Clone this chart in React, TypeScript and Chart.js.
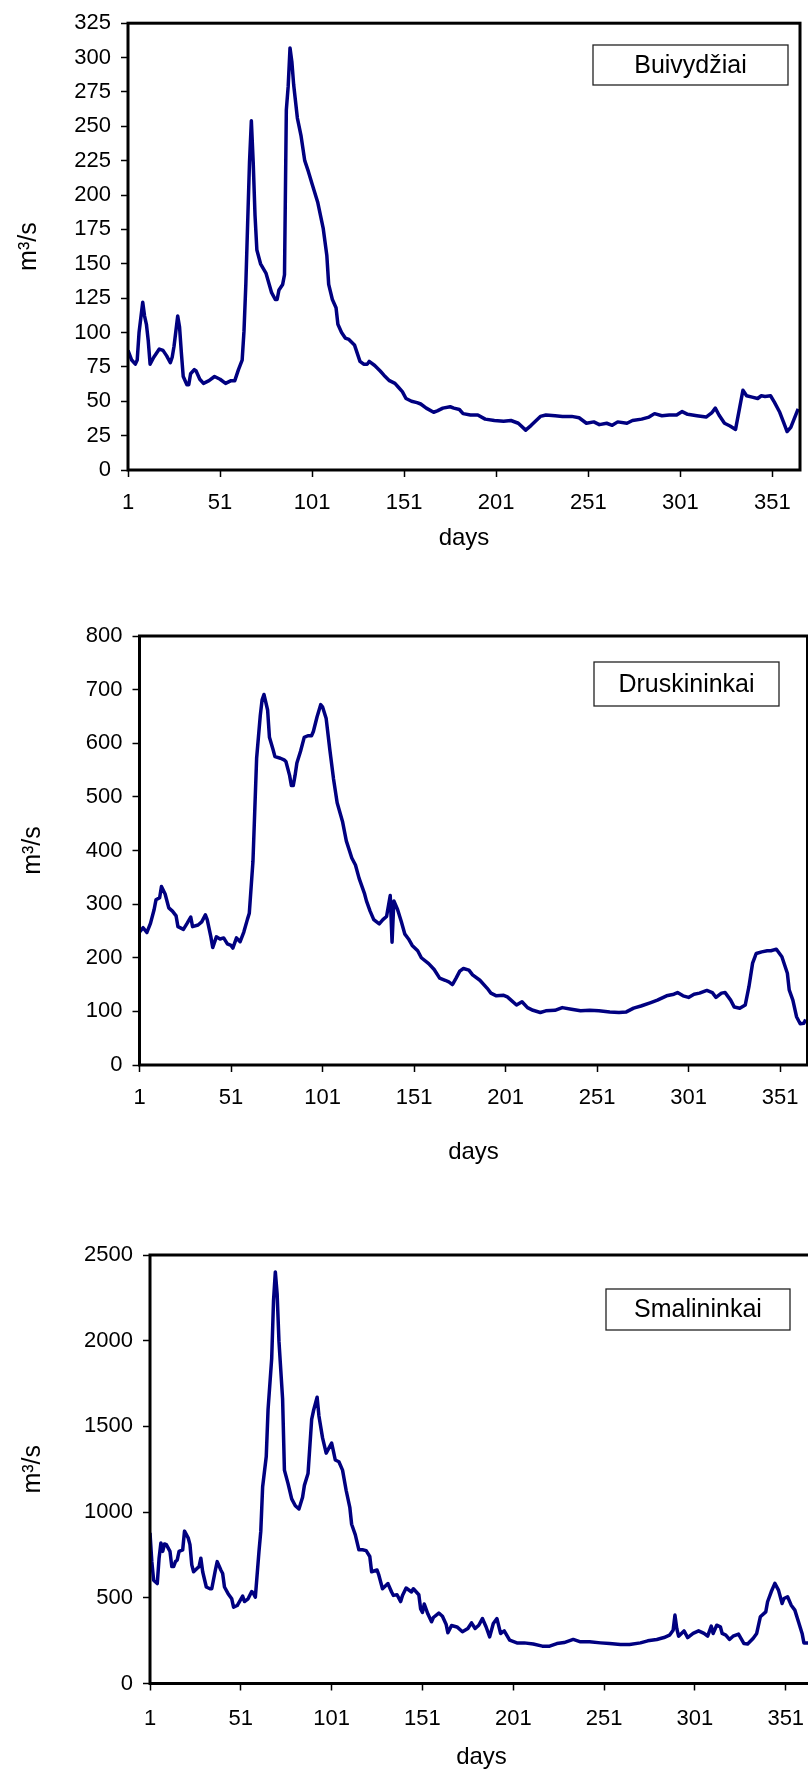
import React, { useEffect, useRef } from 'react';
import { Chart, registerables } from 'chart.js';

Chart.register(...registerables);

const FONT = '"Liberation Sans", Arial, sans-serif';

// x-axis tick labels (days)
const dayTicks = [1, 51, 101, 151, 201, 251, 301, 351];

// ---- Buivydžiai ----
const buivydziaiName = 'Buivydžiai';
const buivydziaiTicks = [0, 25, 50, 75, 100, 125, 150, 175, 200, 225, 250, 275, 300, 325];
const buivydziaiDays = [
  1, 3, 5, 6, 7, 9, 10, 11, 12, 13, 15, 18, 20, 22, 24, 25, 26, 28, 29, 30, 31, 33, 34, 35, 37, 38, 40, 42, 45, 48,
  51, 54, 57, 59, 61, 63, 64, 65, 66, 67, 68, 69, 70, 71, 73, 76, 79, 81, 82, 83, 85, 86, 87, 88, 89, 90, 91, 93, 95, 97,
  99, 101, 104, 107, 109, 110, 112, 114, 115, 117, 119, 121, 124, 127, 129, 131, 132, 135, 138, 140, 143, 146, 148, 150, 152, 155, 158, 160, 163, 167,
  169, 172, 176, 178, 181, 183, 187, 191, 195, 200, 205, 209, 213, 217, 220, 225, 228, 233, 237, 242, 246, 250, 254, 257, 261, 264, 267, 272, 275, 280,
  284, 287, 291, 295, 299, 302, 305, 310, 315, 318, 320, 322, 325, 328, 331, 335, 337, 340, 343, 345, 347, 350, 352, 355, 357, 359, 361, 365,
];
const buivydziaiFlow = [
  87, 80, 77, 80, 100, 122, 112, 106, 94, 77, 82, 88, 87, 83, 78, 82, 90, 112, 104, 85, 68, 62, 62, 70, 73, 72, 66, 63, 65, 68,
  66, 63, 65, 65, 73, 80, 101, 135, 180, 224, 254, 224, 185, 160, 150, 143, 129, 124, 124, 131, 135, 142, 262, 279, 307, 297, 280, 256, 243, 225,
  217, 208, 195, 176, 156, 135, 124, 118, 106, 100, 96, 95, 91, 79, 77, 77, 79, 76, 72, 69, 65, 63, 60, 57, 52, 50, 49, 48, 45, 42,
  43, 45, 46, 45, 44, 41, 40, 40, 37, 36, 35.5, 36, 34, 29, 32.5, 39, 40, 39.5, 39, 39, 38, 34, 35, 33, 34, 32.5, 35, 34, 36, 37,
  38.5, 41, 39.5, 40, 40, 42.5, 40.5, 39.5, 38.5, 41.5, 45, 40, 34, 32, 29.5, 58, 54, 53, 52, 54, 53.5, 54, 49.5, 42, 35, 28, 31, 44.5,
];

// ---- Druskininkai ----
const druskininkaiName = 'Druskininkai';
const druskininkaiTicks = [0, 100, 200, 300, 400, 500, 600, 700, 800];
const druskininkaiDays = [
  1, 3, 5, 7, 9, 10, 12, 13, 15, 17, 19, 21, 22, 25, 27, 29, 30, 33, 35, 37, 38, 40, 41, 43, 45, 47, 49, 51, 52, 54,
  56, 58, 60, 61, 63, 64, 65, 67, 68, 69, 71, 72, 74, 75, 78, 80, 81, 83, 84, 85, 86, 87, 89, 91, 93, 95, 96, 98, 100, 101,
  103, 105, 107, 109, 112, 114, 117, 119, 121, 124, 125, 127, 129, 132, 134, 136, 138, 139, 140, 142, 144, 146, 148, 150, 153, 155, 159, 162, 165, 168,
  170, 172, 174, 176, 178, 181, 183, 187, 191, 193, 196, 200, 202, 204, 207, 210, 213, 216, 220, 223, 228, 232, 237, 242, 247, 252, 258, 263, 267, 271,
  275, 280, 284, 289, 293, 295, 298, 301, 304, 307, 311, 314, 316, 319, 321, 324, 326, 329, 332, 334, 336, 338, 341, 344, 346, 349, 352, 355, 356, 358,
  360, 362, 364, 365,
];
const druskininkaiFlow = [
  248, 256, 247, 264, 290, 308, 312, 333, 319, 293, 287, 278, 258, 253, 264, 276, 258, 261, 267, 280, 271, 239, 219, 239, 235, 237, 226, 223, 218, 237,
  230, 248, 272, 283, 380, 476, 572, 652, 681, 691, 662, 611, 588, 575, 572, 569, 566, 540, 521, 521, 540, 563, 585, 611, 614, 614, 622, 649, 672, 668,
  646, 588, 534, 489, 453, 418, 386, 373, 348, 319, 306, 287, 271, 263, 271, 277, 316, 229, 306, 290, 268, 244, 235, 223, 213, 200, 189, 178, 162, 158,
  155, 150, 162, 175, 180, 177, 168, 158, 143, 134, 129, 130, 127, 121, 112, 118, 107, 102, 98, 101, 102, 107, 104, 101, 102, 101, 99, 98, 99, 106,
  110, 116, 121, 129, 132, 135, 129, 126, 132, 134, 139, 135, 126, 134, 135, 121, 108, 106, 112, 146, 190, 208, 211, 213, 213, 216, 202, 171, 140, 121,
  90, 77, 78, 85,
];

// ---- Smalininkai ----
const smalininkaiName = 'Smalininkai';
const smalininkaiTicks = [0, 500, 1000, 1500, 2000, 2500];
const smalininkaiDays = [
  1, 2, 3, 5, 6, 7, 8, 9, 10, 12, 13, 14, 15, 16, 17, 19, 20, 22, 23, 24, 25, 27, 28, 29, 30, 32, 34, 35, 37, 38,
  40, 41, 42, 44, 46, 47, 49, 52, 53, 55, 57, 58, 59, 61, 62, 63, 65, 66, 68, 69, 70, 71, 72, 74, 75, 77, 79, 81, 83, 85,
  86, 88, 90, 91, 93, 94, 96, 98, 100, 101, 102, 103, 105, 107, 109, 111, 112, 114, 116, 118, 120, 122, 123, 126, 127, 129, 130, 132, 134, 135,
  137, 139, 140, 142, 145, 146, 149, 150, 151, 152, 154, 156, 157, 160, 162, 164, 165, 167, 170, 173, 176, 178, 180, 182, 184, 186, 188, 190, 192, 194,
  196, 199, 203, 207, 212, 217, 221, 225, 229, 234, 238, 243, 249, 254, 260, 265, 271, 275, 280, 284, 287, 289, 290, 291, 292, 295, 297, 300, 303, 306,
  308, 310, 311, 313, 315, 316, 318, 320, 322, 325, 328, 330, 333, 335, 337, 340, 341, 343, 345, 347, 349, 350, 352, 354, 356, 358, 360, 361, 363, 366,
];
const smalininkaiFlow = [
  879, 711, 603, 583, 731, 820, 771, 814, 810, 771, 682, 682, 711, 721, 771, 780, 889, 850, 810, 692, 652, 672, 682, 731, 652, 563, 553, 553, 662, 711,
  662, 642, 563, 524, 494, 445, 455, 510, 478, 494, 537, 524, 504, 771, 889, 1146, 1324, 1600, 1897, 2233, 2401, 2272, 1996, 1660, 1245, 1166, 1077, 1037, 1018, 1087,
  1156, 1225, 1541, 1591, 1670, 1561, 1433, 1344, 1383, 1403, 1354, 1304, 1294, 1245, 1126, 1028, 929, 869, 780, 780, 775, 741, 652, 662, 632, 553, 563, 583, 534, 514,
  518, 478, 514, 557, 534, 553, 518, 435, 415, 464, 405, 360, 385, 411, 392, 346, 296, 338, 330, 302, 321, 354, 321, 340, 379, 331, 272, 350, 379, 292,
  307, 253, 237, 237, 230, 218, 218, 233, 239, 257, 243, 243, 237, 233, 228, 228, 237, 249, 257, 268, 282, 311, 399, 321, 276, 307, 268, 292, 307, 292,
  276, 335, 292, 340, 331, 292, 282, 257, 276, 288, 233, 230, 263, 292, 389, 418, 477, 535, 584, 545, 467, 496, 506, 457, 428, 360, 292, 237, 237, 237,
];

type Cfg = {
  name: string;
  days: number[];
  flow: number[];
  yTicks: number[];
  yMax: number;
  top: number;
  width: number;
  height: number;
  padTop: number;
  padRight: number;
  yWidth: number;
  xHeight: number;
  xPad: number;
  xTitlePad: number;
  yTitlePad: number;
  box: { x: number; y: number; w: number; h: number };
};

const charts: Cfg[] = [
  {
    name: buivydziaiName, days: buivydziaiDays, flow: buivydziaiFlow, yTicks: buivydziaiTicks, yMax: 325,
    top: 0, width: 808, height: 560, padTop: 20, padRight: 8, yWidth: 128, xHeight: 90, xPad: 13, xTitlePad: 7, yTitlePad: 14,
    box: { x: 593, y: 45, w: 195, h: 40 },
  },
  {
    name: druskininkaiName, days: druskininkaiDays, flow: druskininkaiFlow, yTicks: druskininkaiTicks, yMax: 800,
    top: 600, width: 820, height: 570, padTop: 36, padRight: 12.5, yWidth: 139.5, xHeight: 105, xPad: 13, xTitlePad: 3, yTitlePad: 18,
    box: { x: 594, y: 62, w: 185, h: 44 },
  },
  {
    name: smalininkaiName, days: smalininkaiDays, flow: smalininkaiFlow, yTicks: smalininkaiTicks, yMax: 2500,
    top: 1230, width: 830, height: 543, padTop: 25, padRight: 17, yWidth: 150, xHeight: 89.5, xPad: 15, xTitlePad: 1, yTitlePad: 18,
    box: { x: 606, y: 59, w: 184, h: 41 },
  },
];

const framePlugin = {
  id: 'frameAndLabel',
  afterDatasetsDraw(chart: any, _args: any, opts: any) {
    const { ctx, chartArea: a } = chart;
    ctx.save();
    ctx.strokeStyle = '#000';
    ctx.lineWidth = 3;
    ctx.strokeRect(a.left, a.top, a.right - a.left, a.bottom - a.top);
    const b = opts.box;
    ctx.fillStyle = '#fff';
    ctx.fillRect(b.x, b.y, b.w, b.h);
    ctx.lineWidth = 1.3;
    ctx.strokeStyle = '#222';
    ctx.strokeRect(b.x, b.y, b.w, b.h);
    ctx.fillStyle = '#000';
    ctx.font = `25px ${FONT}`;
    ctx.textAlign = 'center';
    ctx.textBaseline = 'middle';
    ctx.fillText(opts.label, b.x + b.w / 2, b.y + b.h / 2 + 1);
    ctx.restore();
  },
};

function StationChart({ cfg }: { cfg: Cfg }) {
  const ref = useRef<HTMLCanvasElement>(null);
  useEffect(() => {
    const grid = {
      drawOnChartArea: false,
      drawTicks: true,
      tickLength: 7,
      tickColor: '#000',
      tickWidth: 1.5,
    };
    const chart = new Chart(ref.current as HTMLCanvasElement, {
      type: 'line',
      data: {
        datasets: [
          {
            data: cfg.days.map((d, i) => ({ x: d, y: cfg.flow[i] })),
            borderColor: '#000080',
            borderWidth: 3.5,
            pointRadius: 0,
            tension: 0,
            fill: false,
            borderJoinStyle: 'round',
          },
        ],
      },
      options: {
        animation: false,
        responsive: false,
        maintainAspectRatio: false,
        events: [],
        layout: {
          autoPadding: false,
          padding: { left: 0, top: cfg.padTop, right: cfg.padRight, bottom: 0 },
        },
        plugins: {
          legend: { display: false },
          tooltip: { enabled: false },
          frameAndLabel: { box: cfg.box, label: cfg.name },
        } as any,
        scales: {
          x: {
            type: 'linear',
            min: 1,
            max: 366,
            afterBuildTicks: (s: any) => {
              s.ticks = dayTicks.map((v) => ({ value: v }));
            },
            afterFit: (s: any) => {
              s.height = cfg.xHeight;
            },
            grid,
            border: { display: false },
            ticks: {
              color: '#000',
              font: { family: FONT, size: 22 },
              padding: cfg.xPad,
              maxRotation: 0,
              autoSkip: false,
              callback: (v: any) => String(v),
            },
            title: {
              display: true,
              text: 'days',
              color: '#000',
              font: { family: FONT, size: 24 },
              padding: { top: 0, bottom: cfg.xTitlePad },
            },
          },
          y: {
            type: 'linear',
            min: 0,
            max: cfg.yMax,
            afterBuildTicks: (s: any) => {
              s.ticks = cfg.yTicks.map((v) => ({ value: v }));
            },
            afterFit: (s: any) => {
              s.width = cfg.yWidth;
            },
            grid,
            border: { display: false },
            ticks: {
              color: '#000',
              font: { family: FONT, size: 22 },
              padding: 10,
              autoSkip: false,
              callback: (v: any) => String(v),
            },
            title: {
              display: true,
              text: 'm³/s',
              color: '#000',
              font: { family: FONT, size: 25 },
              padding: { top: cfg.yTitlePad, bottom: 0 },
            },
          },
        },
      } as any,
      plugins: [framePlugin as any],
    });
    return () => chart.destroy();
  }, [cfg]);
  return (
    <canvas
      ref={ref}
      width={cfg.width}
      height={cfg.height}
      style={{ position: 'absolute', left: 0, top: cfg.top, width: cfg.width, height: cfg.height }}
    />
  );
}

export default function App() {
  return (
    <div
      style={{
        position: 'absolute',
        left: 0,
        top: 0,
        width: 808,
        height: 1773,
        overflow: 'hidden',
        background: '#fff',
      }}
    >
      {charts.map((c) => (
        <StationChart key={c.name} cfg={c} />
      ))}
    </div>
  );
}
